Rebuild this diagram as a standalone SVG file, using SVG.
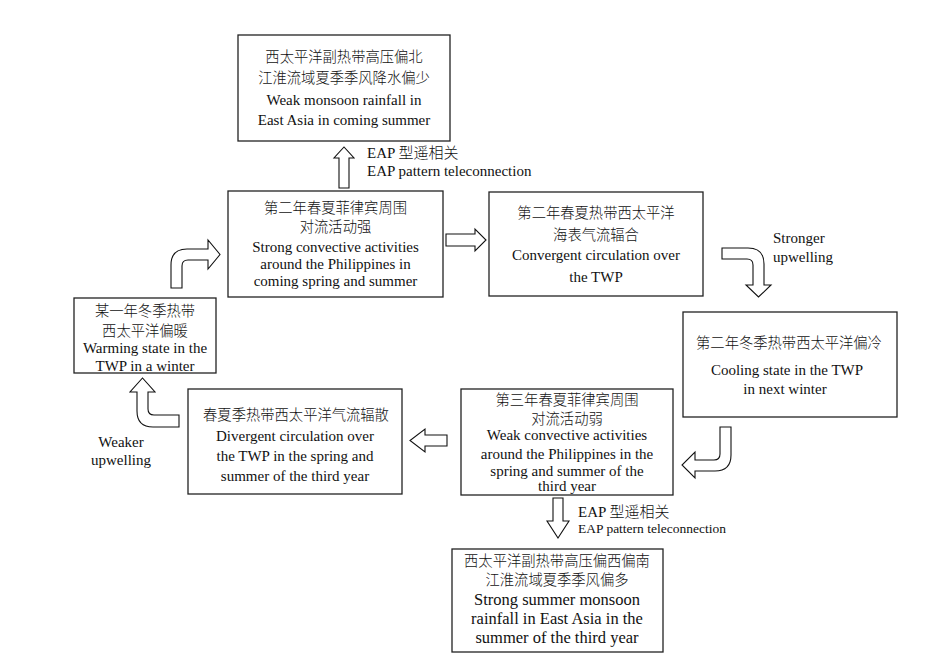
<svg xmlns="http://www.w3.org/2000/svg" width="937" height="663" viewBox="0 0 937 663">
<style>
.box{fill:#fff;stroke:#222;stroke-width:1.3}
.arr{fill:#fff;stroke:#111;stroke-width:1.1;stroke-linejoin:miter}
.zh{font-family:"Noto Sans CJK SC","Liberation Serif",sans-serif;font-size:14.3px;font-weight:300;fill:#111;text-anchor:middle}
.en{font-family:"Liberation Serif","Noto Sans CJK SC",serif;font-size:15px;fill:#111;text-anchor:middle}
.lbl{font-family:"Liberation Serif","Noto Sans CJK SC",serif;font-size:15px;fill:#111}
.cjk{font-family:"Noto Sans CJK SC",sans-serif;font-weight:300}
</style>
<rect width="937" height="663" fill="#fff"/>
<g id="connectors">
  <path class="arr" d="M339,188 L339,158 L334,158 L344,147 L354,158 L349,158 L349,188 Z"/>
  <path class="arr" d="M446,234 L475,234 L475,229 L486,240 L475,251 L475,246 L446,246 Z"/>
  <path class="arr" d="M722,248 L748,248 Q764,248 764,264 L764,285 L771,285 L758.5,297 L746,285 L753,285 L753,265 Q753,259 747,259 L722,259 Z"/>
  <path class="arr" d="M720,427 L731,427 L731,455 Q731,471 715,471 L695,471 L695,478 L682,465 L695,452 L695,460 L714,460 Q720,460 720,454 Z"/>
  <path class="arr" d="M447,435 L425,435 L425,429 L410,440.5 L425,452 L425,446 L447,446 Z"/>
  <path class="arr" d="M179,415 L179,427 L153,427 Q137,427 137,411 L137,392 L130,392 L142.5,378 L155,392 L148,392 L148,409 Q148,415 154,415 Z"/>
  <path class="arr" d="M171,288 L171,265 Q171,249 187,249 L208,249 L208,240 L220,254.5 L208,269 L208,260 L188,260 Q182,260 182,266 L182,288 Z"/>
  <path class="arr" d="M553,498 L563,498 L563,521 L569,521 L558,538 L547,521 L553,521 Z"/>
  <text class="lbl" x="367" y="158">EAP <tspan class="cjk">型遥相关</tspan></text>
  <text class="lbl" x="367" y="176">EAP pattern teleconnection</text>
  <text class="lbl" x="773" y="243">Stronger</text>
  <text class="lbl" x="773" y="262">upwelling</text>
  <text class="lbl" x="121" y="447" text-anchor="middle">Weaker</text>
  <text class="lbl" x="121" y="465" text-anchor="middle">upwelling</text>
  <text class="lbl" x="578" y="517">EAP <tspan class="cjk">型遥相关</tspan></text>
  <text class="lbl" x="578" y="533" style="font-size:13.5px">EAP pattern teleconnection</text>
</g>
<g id="node-weak-rainfall">
  <rect class="box" x="238" y="35" width="212" height="106"/>
  <text class="zh" x="344" y="62">西太平洋副热带高压偏北</text>
  <text class="zh" x="344" y="83">江淮流域夏季季风降水偏少</text>
  <text class="en" x="344" y="105">Weak monsoon rainfall in</text>
  <text class="en" x="344" y="125">East Asia in coming summer</text>
</g>
<g id="node-strong-convection">
  <rect class="box" x="228" y="191" width="215" height="106"/>
  <text class="zh" x="335.5" y="213">第二年春夏菲律宾周围</text>
  <text class="zh" x="335.5" y="232">对流活动强</text>
  <text class="en" x="335.5" y="252">Strong convective activities</text>
  <text class="en" x="335.5" y="269">around the Philippines in</text>
  <text class="en" x="335.5" y="286">coming spring and summer</text>
</g>
<g id="node-convergent">
  <rect class="box" x="489" y="192" width="214" height="104"/>
  <text class="zh" x="596" y="218">第二年春夏热带西太平洋</text>
  <text class="zh" x="596" y="240">海表气流辐合</text>
  <text class="en" x="596" y="260">Convergent circulation over</text>
  <text class="en" x="596" y="282">the TWP</text>
</g>
<g id="node-warming">
  <rect class="box" x="74" y="298" width="142" height="75"/>
  <text class="zh" x="145" y="316">某一年冬季热带</text>
  <text class="zh" x="145" y="336">西太平洋偏暖</text>
  <text class="en" x="145" y="353">Warming state in the</text>
  <text class="en" x="145" y="371">TWP in a winter</text>
</g>
<g id="node-cooling">
  <rect class="box" x="683" y="312" width="214" height="105"/>
  <text class="zh" x="789" y="348">第二年冬季热带西太平洋偏冷</text>
  <text class="en" x="787" y="375">Cooling state in the TWP</text>
  <text class="en" x="785" y="394">in next winter</text>
</g>
<g id="node-divergent">
  <rect class="box" x="188" y="389" width="214" height="105"/>
  <text class="zh" x="296" y="420">春夏季热带西太平洋气流辐散</text>
  <text class="en" x="295" y="441">Divergent circulation over</text>
  <text class="en" x="295" y="461">the TWP in the spring and</text>
  <text class="en" x="295" y="481">summer of the third year</text>
</g>
<g id="node-weak-convection">
  <rect class="box" x="461" y="389" width="212" height="106"/>
  <text class="zh" x="567" y="405">第三年春夏菲律宾周围</text>
  <text class="zh" x="567" y="424">对流活动弱</text>
  <text class="en" x="567" y="440">Weak convective activities</text>
  <text class="en" x="567" y="459">around the Philippines in the</text>
  <text class="en" x="567" y="476">spring and summer of the</text>
  <text class="en" x="567" y="491">third year</text>
</g>
<g id="node-strong-rainfall">
  <rect class="box" x="452" y="549" width="211" height="103"/>
  <text class="zh" x="557" y="566">西太平洋副热带高压偏西偏南</text>
  <text class="zh" x="557" y="585">江淮流域夏季季风偏多</text>
  <text class="en" x="557" y="605" style="font-size:16.5px">Strong summer monsoon</text>
  <text class="en" x="557" y="624" style="font-size:16.5px">rainfall in East Asia in the</text>
  <text class="en" x="557" y="643" style="font-size:16.5px">summer of the third year</text>
</g>
</svg>
